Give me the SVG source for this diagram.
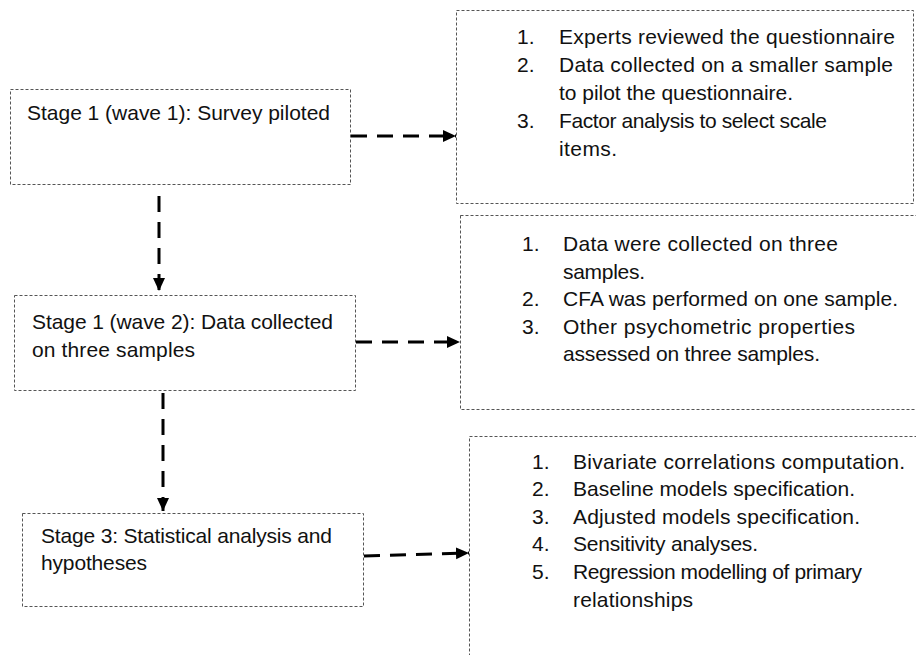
<svg xmlns="http://www.w3.org/2000/svg" width="916" height="655" viewBox="0 0 916 655">
<style>
  .box { fill: #ffffff; stroke: #555555; stroke-width: 1; stroke-dasharray: 3 2; }
  .t { font-family: "Liberation Sans", Arial, sans-serif; font-size: 21px; fill: #111111; }
  .conn { stroke: #000000; stroke-width: 3; stroke-dasharray: 16 10; fill: none; }
</style>
<defs>
  <marker id="ah" markerUnits="userSpaceOnUse" markerWidth="14" markerHeight="14" viewBox="0 0 14 14" refX="13" refY="7" orient="auto">
    <path d="M0,1 L13,7 L0,13 Z" fill="#000000"/>
  </marker>
</defs>
<rect width="916" height="655" fill="#ffffff"/>

<g id="stage1-wave1">
  <rect class="box" x="10.5" y="89.5" width="340" height="95"/>
  <text class="t" x="27" y="120" textLength="303">Stage 1 (wave 1): Survey piloted</text>
</g>

<g id="stage1-wave2">
  <rect class="box" x="14.5" y="295.5" width="341" height="95"/>
  <text class="t" x="32" y="329" textLength="301">Stage 1 (wave 2): Data collected</text>
  <text class="t" x="32" y="357" textLength="163">on three samples</text>
</g>

<g id="stage3">
  <rect class="box" x="22.5" y="513.5" width="341" height="93"/>
  <text class="t" x="41" y="543" textLength="291">Stage 3: Statistical analysis and</text>
  <text class="t" x="41" y="570" textLength="106">hypotheses</text>
</g>

<g id="wave1-details">
  <rect class="box" x="456.5" y="10.5" width="457" height="193"/>
  <text class="t" x="517" y="44">1.</text>
  <text class="t" x="559" y="44" textLength="336">Experts reviewed the questionnaire</text>
  <text class="t" x="517" y="72">2.</text>
  <text class="t" x="559" y="72" textLength="334">Data collected on a smaller sample</text>
  <text class="t" x="559" y="100" textLength="234">to pilot the questionnaire.</text>
  <text class="t" x="517" y="128">3.</text>
  <text class="t" x="559" y="128" textLength="268">Factor analysis to select scale</text>
  <text class="t" x="559" y="156" textLength="58">items.</text>
</g>

<g id="wave2-details">
  <rect class="box" x="460.5" y="215.5" width="470" height="194"/>
  <text class="t" x="522" y="251">1.</text>
  <text class="t" x="563" y="251" textLength="275">Data were collected on three</text>
  <text class="t" x="563" y="279" textLength="82">samples.</text>
  <text class="t" x="522" y="306">2.</text>
  <text class="t" x="563" y="306" textLength="335">CFA was performed on one sample.</text>
  <text class="t" x="522" y="334">3.</text>
  <text class="t" x="563" y="334" textLength="292">Other psychometric properties</text>
  <text class="t" x="563" y="361" textLength="257">assessed on three samples.</text>
</g>

<g id="stage3-details">
  <rect class="box" x="469.5" y="436.5" width="470" height="240"/>
  <text class="t" x="532" y="469">1.</text>
  <text class="t" x="573" y="469" textLength="332">Bivariate correlations computation.</text>
  <text class="t" x="532" y="496">2.</text>
  <text class="t" x="573" y="496" textLength="282">Baseline models specification.</text>
  <text class="t" x="532" y="524">3.</text>
  <text class="t" x="573" y="524" textLength="287">Adjusted models specification.</text>
  <text class="t" x="532" y="551">4.</text>
  <text class="t" x="573" y="551" textLength="185">Sensitivity analyses.</text>
  <text class="t" x="532" y="579">5.</text>
  <text class="t" x="573" y="579" textLength="289">Regression modelling of primary</text>
  <text class="t" x="573" y="607" textLength="120">relationships</text>
</g>

<g id="connectors">
  <line class="conn" x1="351" y1="136" x2="456" y2="136" marker-end="url(#ah)"/>
  <line class="conn" x1="356" y1="342" x2="460" y2="342" marker-end="url(#ah)"/>
  <line class="conn" x1="364" y1="556" x2="469" y2="553" marker-end="url(#ah)"/>
  <line class="conn" x1="159" y1="196" x2="159" y2="291" marker-end="url(#ah)"/>
  <line class="conn" x1="163" y1="393" x2="163" y2="511" marker-end="url(#ah)"/>
</g>
</svg>
